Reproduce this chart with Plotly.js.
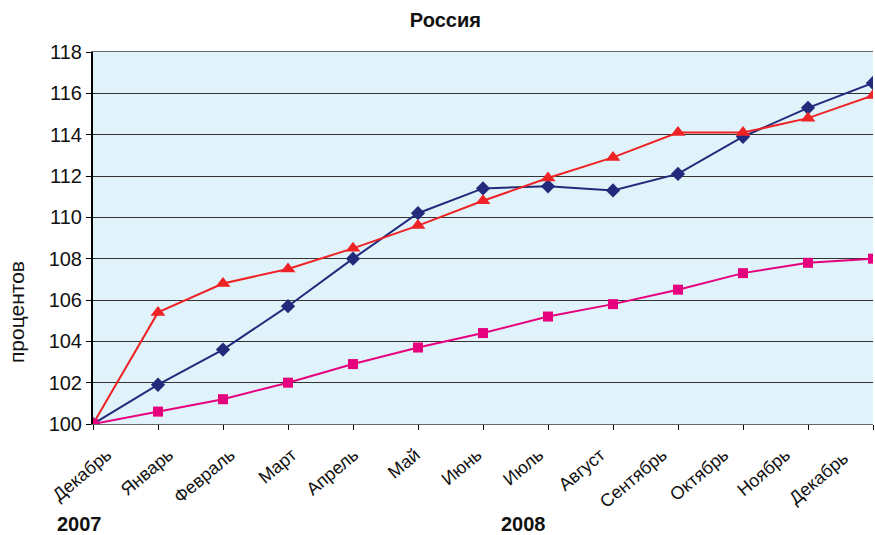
<!DOCTYPE html>
<html><head><meta charset="utf-8">
<script src="https://cdn.plot.ly/plotly-3.0.1.min.js"></script>
<style>html,body{margin:0;padding:0;background:#fff}#chart{width:875px;height:535px}</style>
</head><body><div id="chart"></div>
<script>
const months = ["Декабрь","Январь","Февраль","Март","Апрель","Май","Июнь","Июль","Август","Сентябрь","Октябрь","Ноябрь","Декабрь "];
const seriesNavy = [100, 101.9, 103.6, 105.7, 108.0, 110.2, 111.4, 111.5, 111.3, 112.1, 113.9, 115.3, 116.5];
const seriesRed = [100, 105.4, 106.8, 107.5, 108.5, 109.6, 110.8, 111.9, 112.9, 114.1, 114.1, 114.8, 115.9];
const seriesMagenta = [100, 100.6, 101.2, 102.0, 102.9, 103.7, 104.4, 105.2, 105.8, 106.5, 107.3, 107.8, 108.0];
const yTicks = [100,102,104,106,108,110,112,114,116,118];
const years = ["2007","2008"];
const yTitle = "процентов";

const font = "Liberation Sans, Arial, sans-serif";
const idx = months.map((m,i)=>i);
const plotW = 875 - 93 - 2;
const labelStep = 61.7, labelStart = 107;
const a2 = -(labelStart - 93) / labelStep;
const b2 = a2 + plotW / labelStep;

const traces = [
  {x: months, y: seriesNavy, mode: "lines+markers", line:{color:"#232A7C", width:2}, marker:{symbol:"diamond", size:11, color:"#232A7C"}},
  {x: months, y: seriesRed, mode: "lines+markers", line:{color:"#EE2325", width:2}, marker:{symbol:"triangle-up", size:13, color:"#EE2325"}},
  {x: months, y: seriesMagenta, mode: "lines+markers", line:{color:"#E6007E", width:2}, marker:{symbol:"square", size:10, color:"#E6007E"}},
  {x: [idx[0]], y: [yTicks[0]], xaxis:"x2", mode:"markers", marker:{opacity:0, size:1}, hoverinfo:"skip"}
];
const layout = {
  width: 875, height: 535,
  margin: {l:93, r:2, t:52, b:111, pad:0},
  paper_bgcolor: "#fff", plot_bgcolor: "#E0F3FA",
  showlegend: false,
  title: {text: "<b>Россия</b>", font:{family:font, size:20, color:"#111"}, x:0.509, xanchor:"center", y:0.962, yanchor:"middle"},
  xaxis: {type:"category", range:[0,12], showticklabels:false,
          ticks:"outside", ticklen:5, tickcolor:"#000", showgrid:false, showline:true, linecolor:"#666", linewidth:1, mirror:true, zeroline:false},
  xaxis2: {overlaying:"x", anchor:"y", side:"bottom", range:[a2,b2], tickmode:"array", tickvals: idx, ticktext: months,
           tickangle:-40, tickfont:{family:font, size:18, color:"#111"}, ticks:"", ticklabelstandoff:16,
           showgrid:false, showline:false, zeroline:false},
  yaxis: {range:[100,118], tickvals: yTicks, ticktext: yTicks.map(String), tickfont:{family:font, size:20, color:"#111"},
          ticks:"outside", ticklen:5, tickcolor:"#000", showgrid:true, gridcolor:"#333", gridwidth:1,
          showline:true, linecolor:"#000", linewidth:2, zeroline:false},
  annotations: [
    {text:yTitle, xref:"paper", yref:"paper", x:(16-93)/780, y:(424-312)/372, xanchor:"center", yanchor:"middle", textangle:-90, showarrow:false, font:{family:font, size:21, color:"#111"}},
    {text:"<b>"+years[0]+"</b>", xref:"paper", yref:"paper", x:-0.0173, y:(424-524)/372, xanchor:"center", yanchor:"middle", showarrow:false, font:{family:font, size:20, color:"#111"}},
    {text:"<b>"+years[1]+"</b>", xref:"paper", yref:"paper", x:0.552, y:(424-524)/372, xanchor:"center", yanchor:"middle", showarrow:false, font:{family:font, size:20, color:"#111"}}
  ]
};
Plotly.newPlot("chart", traces, layout, {displayModeBar:false, staticPlot:true});
</script></body></html>
